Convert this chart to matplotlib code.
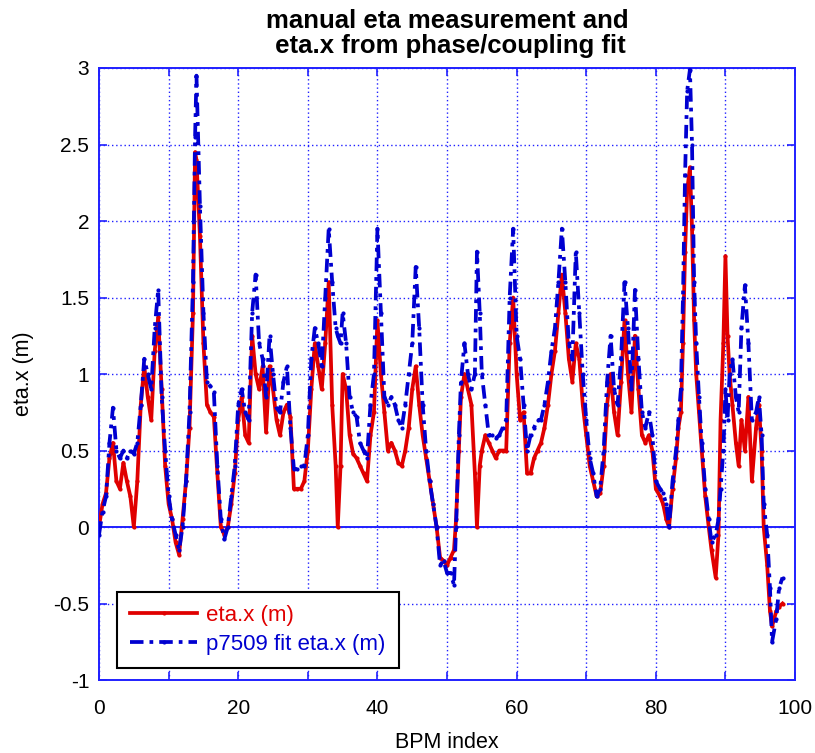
import numpy as np
import matplotlib
matplotlib.use("Agg")
import matplotlib.pyplot as plt
from matplotlib.ticker import MultipleLocator

plt.rcParams["font.family"] = ["Liberation Sans", "DejaVu Sans"]

# BPM positions along the ring
bpm = [
    0, 0.5, 1, 1.5, 2, 2.5, 3, 3.5, 4, 4.5,
    5, 5.5, 6, 6.5, 7, 7.5, 8, 8.5, 9, 9.5,
    10, 10.5, 11, 11.5, 12, 12.5, 13, 13.5, 13.8, 14,
    14.5, 15, 15.5, 16, 16.5, 17, 17.5, 18, 18.5, 19,
    19.5,
    20, 20.5, 21, 21.5, 22, 22.5, 23, 23.5, 24, 24.5,
    25, 25.5, 26, 26.5, 27, 27.5, 28, 28.5, 29, 29.5,
    30, 30.5, 31, 31.5, 32, 32.5, 33, 33.5, 34, 34.3,
    34.7, 35, 35.5, 36, 36.5, 37, 37.5, 38, 38.5, 39,
    39.5,
    40, 40.5, 41, 41.5, 42, 42.5, 43, 43.5, 44, 44.5,
    45, 45.5, 46, 46.5, 47, 47.5, 48, 48.5, 49, 49.5,
    50, 50.5, 51, 51.3, 51.7, 52, 52.5, 53, 53.5, 54,
    54.3, 54.7, 55, 55.5, 56, 56.5, 57, 57.5, 58, 58.5,
    59, 59.5,
    60, 60.5, 61, 61.5, 62, 62.5, 63, 63.5, 64, 64.5,
    65, 65.5, 66, 66.5, 67, 67.5, 68, 68.5, 69, 69.5,
    70, 70.5, 71, 71.5, 72, 72.5, 73, 73.5, 74, 74.5,
    75, 75.5, 76, 76.5, 77, 77.5, 78, 78.5, 79, 79.5,
    80, 80.6, 81.05, 81.5, 81.9, 82.4, 82.9, 83.25, 83.6, 83.9,
    84.2, 84.5, 84.9, 85.2, 85.5, 85.8, 86.2, 86.6, 87.1, 87.6,
    88.0, 88.6, 89.0, 89.3, 89.7, 90.0, 90.3, 90.6, 91.0, 91.5,
    91.9, 92.3, 92.8, 93.3, 93.8, 94.4, 94.8, 95.2, 95.5, 96.0,
    96.4, 96.7, 97.3, 97.7, 98.2,
]

# measured eta.x (m)
eta_meas = [
    0.0, 0.15, 0.22, 0.45, 0.55, 0.3, 0.25, 0.42, 0.3, 0.2,
    0.0, 0.3, 0.8, 1.05, 0.85, 0.7, 1.15, 1.37, 0.9, 0.4,
    0.15, 0.05, -0.1, -0.18, 0.05, 0.3, 0.65, 1.4, 2.45, 2.4,
    1.9, 1.2, 0.8, 0.75, 0.72, 0.35, 0.0, -0.05, 0.0, 0.15,
    0.35,
    0.7, 0.85, 0.6, 0.55, 1.25, 1.0, 0.9, 1.05, 0.62, 1.05,
    0.9, 0.7, 0.6, 0.75, 0.8, 0.72, 0.25, 0.25, 0.25, 0.3,
    0.5, 0.9, 1.2, 1.05, 0.9, 1.2, 1.6, 0.8, 0.4, 0.0,
    0.4, 1.0, 0.9, 0.6, 0.48, 0.45, 0.4, 0.35, 0.3, 0.6,
    0.75,
    1.35, 1.0, 0.75, 0.5, 0.55, 0.5, 0.42, 0.4, 0.5, 0.65,
    0.9, 1.05, 0.8, 0.6, 0.45, 0.3, 0.15, 0.0, -0.2, -0.22,
    -0.25, -0.2, -0.15, 0.05, 0.5, 0.85, 1.0, 0.9, 0.8, 0.35,
    0.0, 0.4, 0.5, 0.6, 0.55, 0.5, 0.45, 0.5, 0.5, 0.5,
    1.2, 1.5,
    1.0, 0.7, 0.75, 0.35, 0.35, 0.45, 0.5, 0.55, 0.65, 0.8,
    1.0, 1.15, 1.4, 1.65, 1.4, 1.1, 0.95, 1.2, 1.1, 0.8,
    0.6, 0.4, 0.3, 0.2, 0.22, 0.4, 0.8, 1.0, 0.75, 0.6,
    0.95, 1.35, 1.0, 0.75, 1.25, 0.9, 0.6, 0.55, 0.6, 0.5,
    0.25, 0.2, 0.15, 0.05, 0.0, 0.25, 0.45, 0.65, 0.75, 1.2,
    1.8, 2.2, 2.35, 1.95, 1.35, 1.0, 0.75, 0.5, 0.2, 0.0,
    -0.15, -0.33, -0.05, 0.7, 1.2, 1.77, 1.25, 1.0, 0.8, 0.55,
    0.4, 0.7, 0.5, 0.85, 0.3, 0.65, 0.8, 0.5, 0.0, -0.25,
    -0.55, -0.65, -0.55, -0.52, -0.5,
]

# eta.x from the p7509 phase/coupling fit (m)
eta_fit = [
    -0.05, 0.1, 0.2, 0.55, 0.78, 0.5, 0.45, 0.5, 0.45, 0.5,
    0.48, 0.55, 0.8, 1.1, 1.0, 0.9, 1.3, 1.55, 0.85, 0.5,
    0.2, 0.05, -0.05, -0.15, 0.0, 0.3, 0.75, 1.6, 2.55, 2.95,
    2.1, 1.4, 0.95, 0.92, 0.88, 0.4, 0.05, -0.08, 0.0, 0.2,
    0.4,
    0.8, 0.9, 0.75, 0.7, 1.4, 1.65, 1.2, 1.1, 0.85, 1.25,
    1.0, 0.78, 0.75, 0.95, 1.05, 0.65, 0.38, 0.38, 0.4, 0.4,
    0.6, 1.1, 1.3, 1.2, 1.05, 1.5, 1.95, 1.6, 1.3, 1.25,
    1.2, 1.4, 1.2, 0.85, 0.75, 0.72, 0.55, 0.5, 0.45, 0.8,
    1.0,
    1.95, 1.4, 0.85, 0.8, 0.85, 0.8, 0.7, 0.65, 0.8, 1.0,
    1.2, 1.7, 1.3, 0.8, 0.5, 0.3, 0.15, 0.0, -0.25, -0.22,
    -0.3, -0.3, -0.38, 0.0, 0.6, 0.95, 1.2, 1.0, 0.9, 1.0,
    1.8, 1.4, 1.0, 0.8, 0.6, 0.6, 0.58, 0.6, 0.65, 0.7,
    1.5, 1.95,
    1.25, 1.1, 0.8, 0.5, 0.6, 0.65, 0.7, 0.7, 0.8, 0.95,
    1.15, 1.3, 1.6, 1.95, 1.6, 1.2, 1.1, 1.8, 1.4, 1.0,
    0.7, 0.45, 0.35, 0.2, 0.25, 0.5, 0.95, 1.25, 0.9, 0.8,
    1.1, 1.6, 1.3, 0.9, 1.55, 1.1, 0.75, 0.65, 0.75, 0.6,
    0.3, 0.25, 0.22, 0.15, 0.0, 0.3, 0.5, 0.7, 0.9, 1.5,
    2.3, 2.85, 2.99, 2.5, 1.6, 1.2, 0.85, 0.55, 0.25, 0.05,
    -0.1, -0.05, 0.05, 0.25, 0.5, 0.9, 0.7, 1.0, 1.1, 0.85,
    0.75, 1.3, 1.58, 1.2, 0.7, 0.75, 0.85, 0.6, 0.15, -0.05,
    -0.4, -0.75, -0.6, -0.4, -0.33,
]

RED = "#e00000"
BLUE = "#0000d0"
AXBLUE = "#2020ff"

fig = plt.figure(figsize=(8.15, 7.53), dpi=100)
ax = fig.add_axes([0.1215, 0.0969, 0.854, 0.8128])

ax.axhline(0, color=AXBLUE, lw=1.4, zorder=1)
ax.plot(bpm, eta_meas, color=RED, lw=2.7, marker=".", markersize=4,
        label="eta.x (m)", zorder=3)
ax.plot(bpm, eta_fit, color=BLUE, lw=2.7, marker=".", markersize=4,
        linestyle=(0, (3.6, 1.6, 1.0, 1.6)), label="p7509 fit eta.x (m)", zorder=4)

ax.set_xlim(0, 100)
ax.set_ylim(-1, 3)
ax.xaxis.set_major_locator(MultipleLocator(20))
ax.xaxis.set_minor_locator(MultipleLocator(10))
ax.yaxis.set_major_locator(MultipleLocator(0.5))
ax.yaxis.set_major_formatter(plt.FuncFormatter(lambda v, p: f"{v:g}"))

ax.grid(which="both", color=AXBLUE, linestyle=(0, (1, 2)), lw=1.0)
ax.set_axisbelow(True)
for s in ax.spines.values():
    s.set_color(AXBLUE)
    s.set_linewidth(1.4)
ax.tick_params(which="both", direction="in", top=True, right=True,
               color=AXBLUE, labelsize=15, width=1.2)
ax.tick_params(which="major", length=6)
ax.tick_params(which="minor", length=6)
ax.tick_params(axis="x", which="major", pad=14)
ax.tick_params(axis="y", which="major", pad=7)

ax.set_title("manual eta measurement and\n eta.x from phase/coupling fit",
             fontsize=18.5, fontweight="bold", pad=11, linespacing=1.05)
ax.set_xlabel("BPM index", fontsize=15.5, labelpad=10)
ax.set_ylabel("eta.x (m)", fontsize=15.5, labelpad=14)

leg = ax.legend(loc="lower left", bbox_to_anchor=(0.026, 0.0196), borderaxespad=0,
                fontsize=16, handlelength=3.0, handletextpad=0.4,
                labelcolor="linecolor", fancybox=False, framealpha=1,
                edgecolor="black", borderpad=0.6, labelspacing=0.35)
leg.get_frame().set_linewidth(1.5)

fig.savefig("out.png", dpi=100)
